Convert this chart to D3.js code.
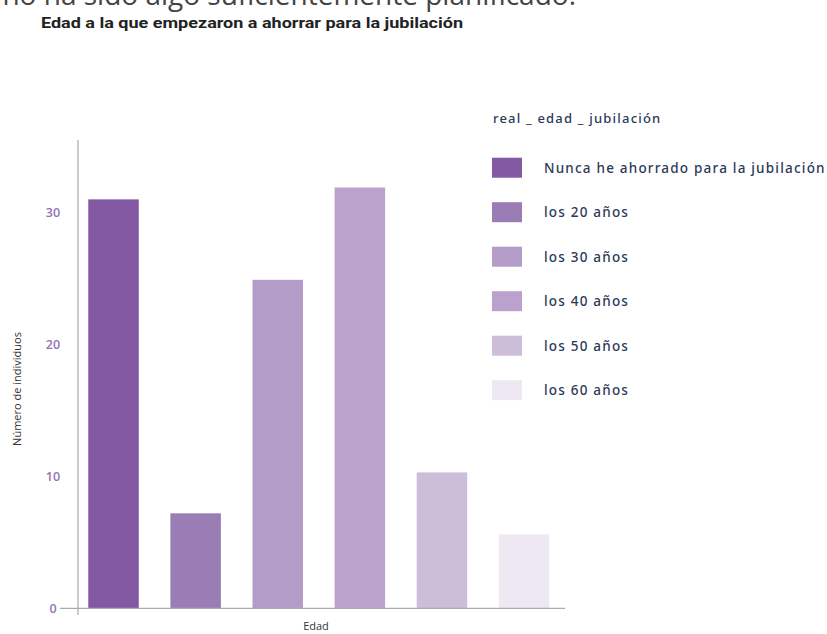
<!DOCTYPE html>
<html>
<head>
<meta charset="utf-8">
<script src="https://cdn.jsdelivr.net/npm/d3@7"></script>
<style>
  html, body { margin: 0; padding: 0; background: #ffffff; }
  svg { display: block; }
</style>
</head>
<body>
<svg id="chart" width="827" height="634"></svg>
<script>
// Data
const categories = [
  "Nunca he ahorrado para la jubilación",
  "los 20 años",
  "los 30 años",
  "los 40 años",
  "los 50 años",
  "los 60 años"
];
const counts = [31, 7.2, 24.9, 31.9, 10.3, 5.6];
const barColors = ["#8459a3", "#9a7db5", "#b39cc8", "#baa2cc", "#ccbdd9", "#eee8f3"];
const yTicks = [0, 10, 20, 30];

const titleText = "Edad a la que empezaron a ahorrar para la jubilación";
const headerText = "no ha sido algo suficientemente planificado.";
const legendTitle = "real _ edad _ jubilación";
const yLabel = "Número de individuos";
const xLabel = "Edad";

const svg = d3.select("#chart");

// Heading sentence running off the top edge
svg.append("text")
  .attr("x", 576).attr("y", 5)
  .attr("text-anchor", "end")
  .attr("font-family", "'Open Sans', sans-serif")
  .attr("font-size", 28)
  .attr("fill", "#444")
  .text(headerText);

// Chart title
svg.append("text")
  .attr("x", 41).attr("y", 28)
  .attr("font-family", "Roboto, sans-serif")
  .attr("font-weight", 700)
  .attr("font-size", 15.5)
  .attr("fill", "#222")
  .attr("textLength", 422)
  .attr("lengthAdjust", "spacingAndGlyphs")
  .text(titleText);

// Scales
const x = d3.scaleBand()
  .domain(categories)
  .range([58.8, 578.8])
  .paddingInner(0.385)
  .paddingOuter(0.359);

const y = d3.scaleLinear()
  .domain([0, 35.5])
  .range([608.3, 140]);

// Bars
svg.append("g").selectAll("rect")
  .data(categories)
  .join("rect")
  .attr("x", d => x(d))
  .attr("y", (d, i) => y(counts[i]))
  .attr("width", x.bandwidth())
  .attr("height", (d, i) => y(0) - y(counts[i]))
  .attr("fill", (d, i) => barColors[i]);

// Axis lines
const axisColor = "#a7abb0";
svg.append("line")
  .attr("x1", 60).attr("x2", 565)
  .attr("y1", y(0)).attr("y2", y(0))
  .attr("stroke", axisColor).attr("stroke-width", 1.2);
svg.append("line")
  .attr("x1", 78).attr("x2", 78)
  .attr("y1", 140).attr("y2", 615)
  .attr("stroke", axisColor).attr("stroke-width", 1.2);

// Y axis tick labels
const yAxis = d3.axisLeft(y).tickValues(yTicks).tickSize(0).tickPadding(0);
const yg = svg.append("g").attr("transform", "translate(53,0)").call(yAxis);
yg.select(".domain").remove();
yg.selectAll("text")
  .attr("text-anchor", "middle")
  .attr("x", 0)
  .attr("font-family", "'Open Sans', sans-serif")
  .attr("font-weight", 600)
  .attr("font-size", 12.5)
  .attr("fill", "#9272b4");

// Axis titles
svg.append("text")
  .attr("transform", "translate(21,389) rotate(-90)")
  .attr("text-anchor", "middle")
  .attr("font-family", "'Open Sans', sans-serif")
  .attr("font-size", 11)
  .attr("fill", "#333")
  .text(yLabel);

svg.append("text")
  .attr("x", 316).attr("y", 630)
  .attr("text-anchor", "middle")
  .attr("font-family", "'Open Sans', sans-serif")
  .attr("font-size", 11)
  .attr("fill", "#333")
  .text(xLabel);

// Legend
const legend = svg.append("g");
legend.append("text")
  .attr("x", 493).attr("y", 123)
  .attr("font-family", "'Noto Sans', sans-serif")
  .attr("font-weight", 500)
  .attr("font-size", 13)
  .attr("letter-spacing", 1.2)
  .attr("fill", "#2c3a58")
  .text(legendTitle);

const items = legend.selectAll("g.item")
  .data(categories)
  .join("g")
  .attr("class", "item")
  .attr("transform", (d, i) => `translate(492,${157.7 + i * 44.5})`);
items.append("rect")
  .attr("width", 30).attr("height", 20)
  .attr("fill", (d, i) => barColors[i]);
items.append("text")
  .attr("x", 52).attr("y", 15)
  .attr("font-family", "'Noto Sans', sans-serif")
  .attr("font-weight", 500)
  .attr("font-size", 13.5)
  .attr("letter-spacing", 1.2)
  .attr("fill", "#2c3a58")
  .text(d => d);
</script>
</body>
</html>
